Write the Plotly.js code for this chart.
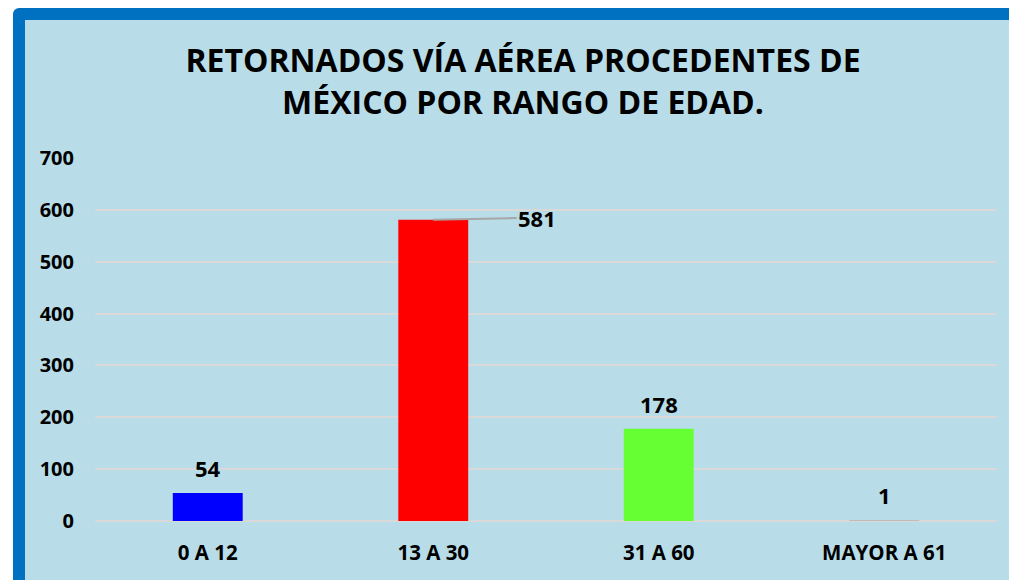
<!DOCTYPE html>
<html>
<head>
<meta charset="utf-8">
<script src="https://cdn.plot.ly/plotly-3.0.1.min.js"></script>
<style>
  html, body { margin: 0; padding: 0; background: #ffffff; overflow: hidden; }
  #frame {
    position: absolute; left: 13px; top: 8px;
    width: 1040px; height: 600px;
    box-sizing: border-box;
    border: 12px solid #0070c0;
    border-top-left-radius: 6px;
    background: #b8dde8;
  }
  #chart { position: absolute; left: 0; top: 0; width: 1009px; height: 580px; }
</style>
</head>
<body>
<div id="frame"></div>
<div id="chart"></div>
<script>
// Data
var categories = ["0 A 12", "13 A 30", "31 A 60", "MAYOR A 61"];
var values = [54, 581, 178, 1];
var barColors = ["#0000ff", "#ff0000", "#66ff33", "#a0a0a0"];
var yTicks = [0, 100, 200, 300, 400, 500, 600, 700];
var titleText = "RETORNADOS VÍA AÉREA PROCEDENTES DE<br>MÉXICO POR RANGO DE EDAD.";

var fontFam = "'Open Sans', 'DejaVu Sans', sans-serif";

var trace = {
  type: "bar",
  x: categories,
  y: values,
  marker: { color: barColors, line: { width: 0 } },
  hoverinfo: "none"
};

var annotations = categories.map(function (c, i) {
  var a = {
    x: c, y: values[i], xref: "x", yref: "y",
    text: String(values[i]),
    showarrow: false,
    yshift: 25,
    xanchor: "center", yanchor: "middle",
    font: { family: fontFam, size: 22, color: "#000000", weight: 700 }
  };
  if (values[i] === Math.max.apply(null, values)) {
    a.showarrow = true;
    a.arrowhead = 0;
    a.arrowwidth = 2;
    a.arrowcolor = "#a6a6a6";
    a.ax = 104;
    a.ay = -2;
    a.yshift = 0;
    a.standoff = 0;
  }
  return a;
});

var layout = {
  width: 1009, height: 580,
  paper_bgcolor: "rgba(0,0,0,0)",
  plot_bgcolor: "rgba(0,0,0,0)",
  margin: { l: 95, r: 12, t: 158, b: 59 },
  showlegend: false,
  bargap: 0.69,
  title: {
    text: titleText,
    x: 523 / 1009, xanchor: "center", xref: "container",
    y: 1 - 72 / 580, yanchor: "middle", yref: "container",
    font: { family: fontFam, size: 32, color: "#000000", weight: 700 }
  },
  xaxis: {
    type: "category",
    showgrid: false, showline: false, zeroline: false,
    ticks: "",
    ticklabelstandoff: 17,
    tickfont: { family: fontFam, size: 20.5, color: "#000000", weight: 700 },
    fixedrange: true
  },
  yaxis: {
    range: [0, 700],
    tickvals: yTicks,
    ticktext: yTicks.map(String),
    showgrid: true, gridcolor: "#d9d9d9", gridwidth: 2,
    zeroline: true, zerolinecolor: "#d9d9d9", zerolinewidth: 2,
    showline: false, ticks: "",
    ticklabelstandoff: 20,
    tickfont: { family: fontFam, size: 20, color: "#000000", weight: 700 },
    fixedrange: true
  },
  annotations: annotations
};

Plotly.newPlot("chart", [trace], layout, { displayModeBar: false, staticPlot: true });
</script>
</body>
</html>
